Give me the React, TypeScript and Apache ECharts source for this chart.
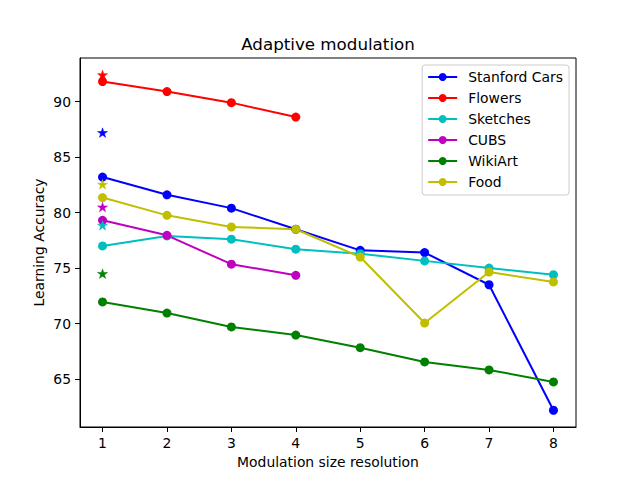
import React, { useEffect, useRef } from "react";
import * as echarts from "echarts";

const xTicks = [1, 2, 3, 4, 5, 6, 7, 8];
const yTicks = [65, 70, 75, 80, 85, 90];

const seriesNames = ["Stanford Cars", "Flowers", "Sketches", "CUBS", "WikiArt", "Food"];
const seriesColors = ["#0000ff", "#ff0000", "#00bfbf", "#bf00bf", "#008000", "#bfbf00"];

const stanfordCars = [83.2, 81.6, 80.4, 78.5, 76.6, 76.4, 73.5, 62.2];
const flowers = [91.8, 90.9, 89.9, 88.6];
const sketches = [77.0, 77.9, 77.6, 76.7, 76.3, 75.65, 75.0, 74.4];
const cubs = [79.3, 77.95, 75.35, 74.35];
const wikiArt = [71.95, 70.95, 69.7, 68.97, 67.83, 66.55, 65.83, 64.75];
const food = [81.35, 79.75, 78.7, 78.5, 76.0, 70.05, 74.65, 73.75];

// star markers at resolution 1
const starX = 1;
const starValues = [87.2, 92.4, 78.85, 80.5, 74.5, 82.55];

const allSeries = [stanfordCars, flowers, sketches, cubs, wikiArt, food];

const STAR =
  "path://M0,-1000 L224,-309 L951,-309 L363,118 L588,809 L0,382 L-588,809 L-363,118 L-951,-309 L-224,-309 Z";

const FONT = "DejaVu Sans";

export default function App() {
  const ref = useRef<HTMLDivElement>(null);
  useEffect(() => {
    if (!ref.current) return;
    const chart = echarts.init(ref.current, undefined, { renderer: "svg" });
    const lineSeries = allSeries.map((vals, i) => ({
      name: seriesNames[i],
      type: "line",
      data: vals.map((v, j) => [xTicks[j], v]),
      symbol: "circle",
      symbolSize: 9,
      lineStyle: { color: seriesColors[i], width: 2 },
      itemStyle: { color: seriesColors[i] },
      z: 3,
    }));
    const starSeries = starValues.map((v, i) => ({
      name: seriesNames[i] + " star",
      type: "scatter",
      data: [[starX, v]],
      symbol: STAR,
      symbolSize: [10, 9.5],
      itemStyle: { color: seriesColors[i], opacity: 1, borderColor: seriesColors[i], borderWidth: 0.5 },
      z: 4,
    }));
    chart.setOption({
      animation: false,
      textStyle: { fontFamily: FONT },
      title: {
        text: "Adaptive modulation",
        left: 328,
        textAlign: "center",
        top: 35,
        padding: 0,
        textStyle: { fontFamily: FONT, fontSize: 16.7, fontWeight: "normal", color: "#000" },
      },
      grid: {
        left: 80,
        right: 64,
        top: 58,
        bottom: 53,
        show: true,
        borderColor: "#000",
        borderWidth: 1,
        backgroundColor: "transparent",
      },
      legend: {
        data: seriesNames,
        orient: "vertical",
        right: 71,
        top: 65,
        padding: [5, 6, 6, 5],
        itemWidth: 29,
        itemHeight: 10,
        itemGap: 7,
        selectedMode: false,
        borderColor: "#cccccc",
        borderWidth: 1,
        borderRadius: 3,
        backgroundColor: "rgba(255,255,255,0.8)",
        textStyle: { fontFamily: FONT, fontSize: 13.9, color: "#000", lineHeight: 14, padding: [0, 0, 0, 6] },
      },
      xAxis: {
        type: "value",
        min: 0.65,
        max: 8.35,
        name: "Modulation size resolution",
        nameLocation: "middle",
        nameGap: 28,
        nameMoveOverlap: false,
        nameTextStyle: { fontFamily: FONT, fontSize: 13.9, color: "#000", verticalAlign: "top" },
        axisLine: { show: true, lineStyle: { color: "#000", width: 1 } },
        axisTick: { show: true, length: 5, customValues: xTicks, lineStyle: { color: "#000", width: 1 } },
        axisLabel: { customValues: xTicks, margin: 9, fontFamily: FONT, fontSize: 13.9, color: "#000" },
        splitLine: { show: false },
      },
      yAxis: {
        type: "value",
        min: 60.69,
        max: 93.92,
        name: "Learning Accuracy",
        nameLocation: "middle",
        nameGap: 34,
        nameRotate: 90,
        nameMoveOverlap: false,
        nameTextStyle: { fontFamily: FONT, fontSize: 13.9, color: "#000" },
        axisLine: { show: true, lineStyle: { color: "#000", width: 1 } },
        axisTick: { show: true, length: 5, customValues: yTicks, lineStyle: { color: "#000", width: 1 } },
        axisLabel: { customValues: yTicks, margin: 9, fontFamily: FONT, fontSize: 13.9, color: "#000" },
        splitLine: { show: false },
      },
      series: [...lineSeries, ...starSeries],
    });
    return () => chart.dispose();
  }, []);
  return (
    <div
      ref={ref}
      style={{ position: "fixed", left: 0, top: 0, width: 640, height: 480, background: "#fff" }}
    />
  );
}
